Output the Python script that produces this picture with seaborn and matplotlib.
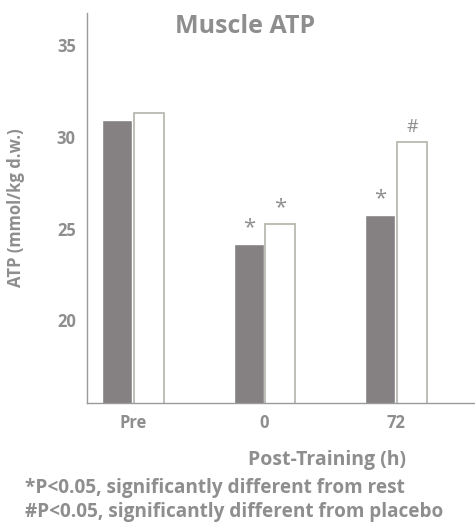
import seaborn as sb
import matplotlib.pyplot as plt
import pandas as pd

# values
times = ['Pre', '0', '72']
groups = ['Creatine', 'Placebo']
atp_creatine = [30.93, 24.18, 25.76]
atp_placebo = [31.30, 25.27, 29.73]
marks_creatine = ['', '*', '*']
marks_placebo = ['', '*', '#']

df = pd.DataFrame({
    'time': times * 2,
    'group': [groups[0]] * 3 + [groups[1]] * 3,
    'atp': atp_creatine + atp_placebo,
})

sb.set_style('white')
plt.rcParams['font.family'] = ['Open Sans', 'DejaVu Sans']
grey = '#8e8e8e'

fig = plt.figure(figsize=(4.75, 5.31), dpi=100)
ax = fig.add_axes([0.183, 0.241, 0.817, 0.735])

sb.barplot(data=df, x='time', y='atp', hue='group', order=times, hue_order=groups,
           palette=['#858183', 'white'], width=0.48, gap=0.06, saturation=1,
           legend=False, ax=ax)

# white bars get a grey outline
for p in ax.patches[3:6]:
    p.set_edgecolor('#b9b9b1')
    p.set_linewidth(1.3)

# significance marks above bars
marks = marks_creatine + marks_placebo
for p, m in zip(ax.patches[:6], marks):
    if m:
        ax.annotate(m, (p.get_x() + p.get_width() / 2, p.get_height()),
                    xytext=(0, 4), textcoords='offset points',
                    ha='center', va='bottom', fontsize=16 if m == '*' else 13,
                    color=grey)

ax.set_ylim(15.5, 36.75)
ax.set_xlim(-0.35, 2.6)
ax.set_yticks([20, 25, 30, 35])
ax.tick_params(length=0, colors=grey, labelsize=12, pad=8)
for t in ax.get_xticklabels() + ax.get_yticklabels():
    t.set_fontweight('bold')

for s in ['top', 'right']:
    ax.spines[s].set_visible(False)
for s in ['left', 'bottom']:
    ax.spines[s].set_color('#9a9a9a')
    ax.spines[s].set_linewidth(1.0)

ax.set_xlabel('')
ax.set_ylabel('ATP (mmol/kg d.w.)', color=grey, fontsize=12, fontweight='bold', labelpad=10)
ax.yaxis.set_label_coords(-0.16, 0.5)

fig.text(0.515, 0.95, 'Muscle ATP', ha='center', va='center', color=grey,
         fontsize=18, fontweight='bold')
fig.text(0.688, 0.133, 'Post-Training (h)', ha='center', va='center', color=grey,
         fontsize=14, fontweight='bold')
fig.text(0.053, 0.081, '*P<0.05, significantly different from rest', ha='left',
         va='center', color=grey, fontsize=13.7, fontweight='bold')
fig.text(0.053, 0.035, '#P<0.05, significantly different from placebo', ha='left',
         va='center', color=grey, fontsize=13.7, fontweight='bold')

plt.savefig('out.png', dpi=100)
